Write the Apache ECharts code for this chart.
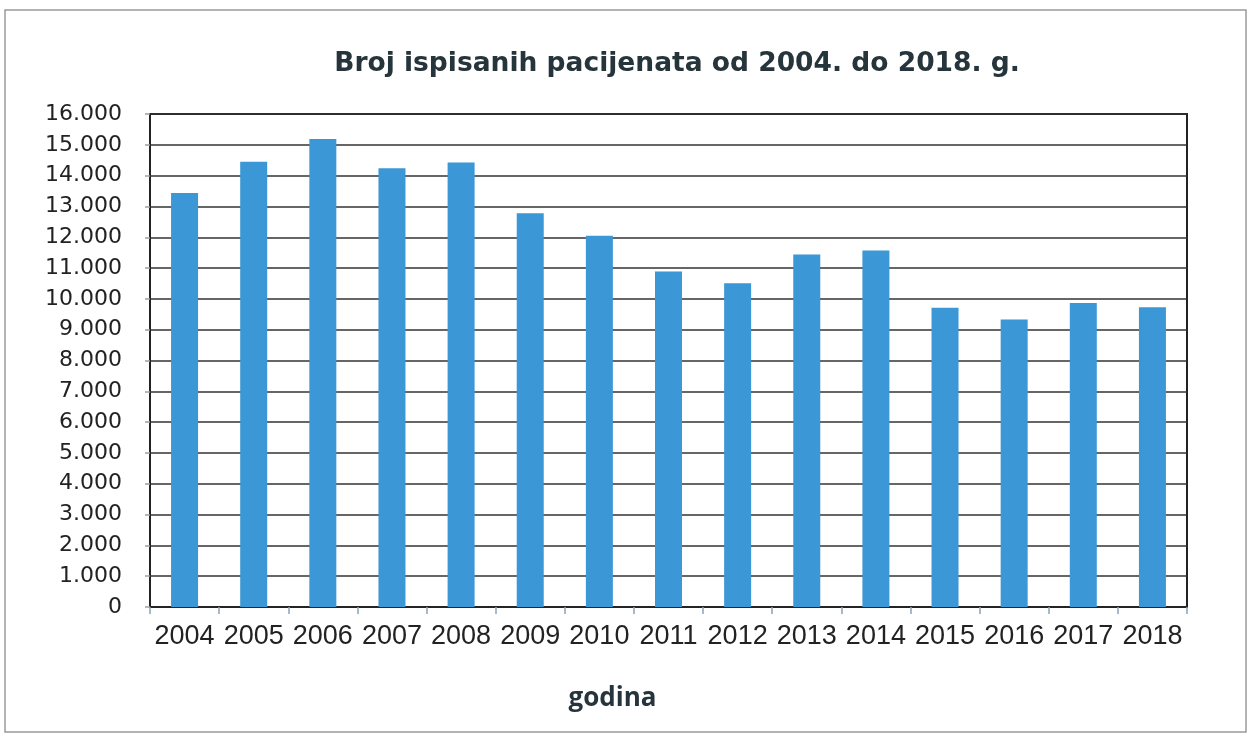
<!DOCTYPE html>
<html>
<head>
<meta charset="utf-8">
<script src="https://cdn.jsdelivr.net/npm/echarts@6/dist/echarts.min.js"></script>
<style>
  html, body { margin: 0; padding: 0; background: #fff; }
  #chart { width: 1252px; height: 740px; }
</style>
</head>
<body>
<div id="chart"></div>
<script>
// godine
var years = ['2004', '2005', '2006', '2007', '2008', '2009', '2010', '2011', '2012', '2013', '2014', '2015', '2016', '2017', '2018']
// broj ispisanih pacijenata (procjena s grafa)
var patients = [13440, 14450, 15190, 14240, 14430, 12780, 12050, 10890, 10510, 11440, 11570, 9710, 9330, 9870, 9730]
var yTicks = { min: 0, max: 16000, interval: 1000 }

var chart = echarts.init(document.getElementById('chart'))

var option = {
    animation: false,
    backgroundColor: '#fff',
    title: {
        text: 'Broj ispisanih pacijenata od 2004. do 2018. g.',
        left: 672,
        top: 46,
        textAlign: 'center',
        textStyle: { fontFamily: 'DejaVu Sans', fontWeight: 'bold', fontSize: 26.5, color: '#26343c' }
    },
    graphic: [{
        type: 'rect',
        shape: { x: 5, y: 10, width: 1241, height: 722 },
        style: { fill: 'none', stroke: '#9a9a9a', lineWidth: 1.5 },
        silent: true
    }],
    grid: {
        left: 150, right: 65, top: 114, bottom: 133,
        show: true, borderColor: '#222', borderWidth: 2
    },
    xAxis: {
        type: 'category',
        data: years,
        name: 'godina',
        nameLocation: 'middle',
        nameGap: 79,
        nameTextStyle: { fontFamily: 'Open Sans', fontWeight: 'bold', fontSize: 26, color: '#26343c', padding: [0, 112, 0, 0] },
        axisLine: { lineStyle: { color: '#222', width: 1.5 } },
        axisTick: { show: true, length: 7, lineStyle: { color: '#8fa3b0', width: 1.5 } },
        axisLabel: { interval: 0, hideOverlap: false, margin: 16, fontFamily: 'Liberation Sans', fontSize: 27, color: '#222' }
    },
    yAxis: {
        type: 'value',
        min: yTicks.min,
        max: yTicks.max,
        interval: yTicks.interval,
        axisLine: { show: true, lineStyle: { color: '#222', width: 2 } },
        axisTick: { show: true, length: 5, lineStyle: { color: '#8fa3b0', width: 1.5 } },
        splitLine: { lineStyle: { color: '#333', width: 1.5 } },
        axisLabel: {
            margin: 28, fontFamily: 'DejaVu Sans', fontSize: 22, color: '#222',
            formatter: function (v) { return v === 0 ? '0' : (v / 1000) + '.000' }
        }
    },
    series: [{
        type: 'bar',
        data: patients,
        barWidth: 27,
        itemStyle: { color: '#3b97d5' }
    }]
}

chart.setOption(option)
</script>
</body>
</html>
